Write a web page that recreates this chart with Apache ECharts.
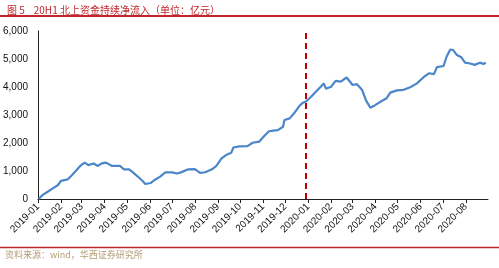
<!DOCTYPE html>
<html>
<head>
<meta charset="utf-8">
<script src="https://cdn.jsdelivr.net/npm/echarts@6/dist/echarts.min.js"></script>
<style>
  html, body { margin: 0; padding: 0; background: #fff; }
  #chart { width: 499px; height: 268px; }
</style>
</head>
<body>
<div id="chart"></div>
<script>
// 北上资金累计净流入（亿元），按图读数估计
const dates = [
  '2019-01-02', '2019-01-07', '2019-01-14', '2019-01-21', '2019-01-28',
  '2019-02-01', '2019-02-10', '2019-02-16', '2019-02-21', '2019-02-27',
  '2019-03-05', '2019-03-10', '2019-03-17', '2019-03-23', '2019-03-28',
  '2019-04-03', '2019-04-11', '2019-04-15', '2019-04-22', '2019-04-27',
  '2019-05-04', '2019-05-08', '2019-05-15', '2019-05-22', '2019-05-26',
  '2019-06-02', '2019-06-08', '2019-06-15', '2019-06-22', '2019-07-01',
  '2019-07-08', '2019-07-14', '2019-07-23', '2019-08-01', '2019-08-08',
  '2019-08-15', '2019-08-24', '2019-08-30', '2019-09-06', '2019-09-12',
  '2019-09-19', '2019-09-22', '2019-09-30', '2019-10-11', '2019-10-18',
  '2019-10-27', '2019-11-03', '2019-11-09', '2019-11-15', '2019-11-21',
  '2019-11-28', '2019-11-30', '2019-12-07', '2019-12-13', '2019-12-20',
  '2019-12-25', '2019-12-29', '2020-01-05', '2020-01-11', '2020-01-18',
  '2020-01-22', '2020-01-25', '2020-02-01', '2020-02-07', '2020-02-14',
  '2020-02-22', '2020-03-01', '2020-03-07', '2020-03-14', '2020-03-19',
  '2020-03-25', '2020-04-01', '2020-04-10', '2020-04-16', '2020-04-21',
  '2020-04-30', '2020-05-09', '2020-05-18', '2020-05-27', '2020-06-05',
  '2020-06-12', '2020-06-19', '2020-06-23', '2020-07-02', '2020-07-06',
  '2020-07-11', '2020-07-15', '2020-07-20', '2020-07-26', '2020-07-31',
  '2020-08-07', '2020-08-13', '2020-08-20', '2020-08-25', '2020-08-28'
]
const flows = [
  0, 140, 260, 380, 500,
  650, 700, 860, 1000, 1180,
  1300, 1210, 1270, 1180, 1270,
  1300, 1180, 1180, 1180, 1060,
  1060, 975, 820, 650, 535,
  570, 690, 800, 950, 950,
  910, 960, 1060, 1065, 930,
  955, 1060, 1180, 1450, 1570,
  1650, 1840, 1880, 1890, 2010,
  2050, 2260, 2420, 2440, 2460,
  2580, 2820, 2880, 3060, 3320,
  3440, 3480, 3650, 3820, 4010,
  4130, 3940, 4010, 4220, 4190,
  4340, 4070, 4100, 3890, 3530,
  3260, 3360, 3510, 3600, 3800,
  3880, 3900, 3990, 4130, 4350,
  4490, 4460, 4710, 4750, 5080,
  5340, 5320, 5140, 5060, 4870,
  4840, 4790, 4870, 4820, 4870
]
const yTicks = [0, 1000, 2000, 3000, 4000, 5000, 6000]
const markDate = '2019-12-29'

const chart = echarts.init(document.getElementById('chart'))
const fmt = (v) => String(v).replace(/\B(?=(\d{3})+(?!\d))/g, ',')

const option = {
  animation: false,
  backgroundColor: '#fff',
  title: {
    text: '图 5    20H1 北上资金持续净流入（单位：亿元）',
    left: 2,
    top: 0,
    textStyle: {
      fontFamily: 'Noto Sans CJK SC',
      fontSize: 10,
      fontWeight: 'normal',
      color: '#c0272d'
    }
  },
  graphic: [
    { type: 'line', shape: { x1: 0, y1: 16, x2: 499, y2: 16 }, style: { stroke: '#c0272d', lineWidth: 2 } },
    { type: 'line', shape: { x1: 0, y1: 247.5, x2: 499, y2: 247.5 }, style: { stroke: '#c0272d', lineWidth: 1.5 } },
    {
      type: 'text', left: 5, top: 250,
      style: { text: '资料来源：wind，华西证券研究所', fontFamily: 'Noto Sans CJK SC', fontSize: 9, fill: '#b39c74' }
    }
  ],
  grid: { left: 35, right: 11, top: 31, bottom: 69 },
  xAxis: {
    type: 'time',
    min: '2019-01-01',
    max: '2020-08-31',
    minInterval: 28 * 86400000,
    maxInterval: 31 * 86400000,
    axisLine: { lineStyle: { color: '#222', width: 1 } },
    axisTick: { show: true, length: 4, lineStyle: { color: '#222' } },
    splitLine: { show: false },
    axisLabel: {
      rotate: 45,
      interval: 0,
      showMaxLabel: false,
      hideOverlap: false,
      margin: 6,
      color: '#111',
      fontFamily: 'Liberation Sans',
      fontSize: 10,
      formatter: '{yyyy}-{MM}'
    }
  },
  yAxis: {
    type: 'value',
    min: yTicks[0],
    max: yTicks[yTicks.length - 1],
    interval: 1000,
    axisLine: { show: true, lineStyle: { color: '#222', width: 1 } },
    axisTick: { show: false },
    splitLine: { show: false },
    axisLabel: { margin: 10, color: '#111', fontFamily: 'Liberation Sans', fontSize: 10, formatter: fmt }
  },
  series: [
    {
      type: 'line',
      data: dates.map((d, i) => [d, flows[i]]),
      symbol: 'none',
      lineStyle: { color: '#4a86c8', width: 2.2 },
      markLine: {
        silent: true,
        symbol: 'none',
        label: { show: false },
        lineStyle: { color: '#c00000', width: 2, type: [6, 4] },
        data: [{ xAxis: markDate }]
      }
    }
  ]
}

chart.setOption(option)
window.addEventListener('resize', () => chart.resize())
</script>
</body>
</html>
